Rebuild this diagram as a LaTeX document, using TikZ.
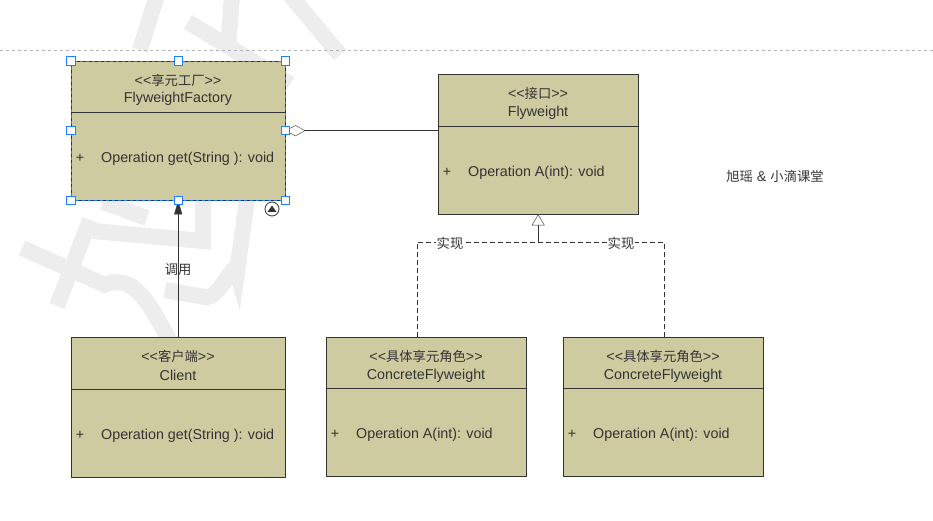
\documentclass[tikz,border=0pt]{standalone}
\usepackage{fontspec}
\setmainfont{Liberation Sans}
\newfontfamily\cjk[Scale=0.93]{Noto Sans CJK SC}
\usetikzlibrary{arrows.meta}
\definecolor{umlfill}{RGB}{207,203,161}
\definecolor{umlline}{RGB}{51,51,51}
\definecolor{selblue}{RGB}{30,128,255}
\tikzset{
  classbox/.style={draw=umlline, fill=umlfill, anchor=north west, inner sep=0pt},
  handle/.style={draw=selblue, fill=white, minimum size=8.5pt, inner sep=0pt, line width=0.9pt},
  wmark/.style={black!7, line width=16pt},
  realize/.style={umlline, dash pattern=on 5pt off 3pt}
}
\begin{document}
\begin{tikzpicture}[x=1pt,y=-1pt, font=\fontsize{14.3}{16}\selectfont, every node/.style={text=umlline}]
\useasboundingbox (0,0) rectangle (933,521);

% watermark
\draw[wmark] (22,248) -- (105,285) to[out=25,in=120] (172,345);
\draw[wmark] (90,220) -- (57,306);
\draw[wmark] (93,231) -- (203,241) -- (203,200);
\draw[wmark] (103,202) -- (147,218);
\draw[wmark] (247,200) -- (237,272) to[out=100,in=-10] (205,297) -- (165,290);
\draw[wmark] (157,-5) -- (140,50);
\draw[wmark] (232,-5) -- (228,48);
\draw[wmark] (188,22) -- (290,84);
\draw[wmark] (290,-5) -- (340,55);

\draw[gray!60, dashed] (0,50) -- (933,50);

% classes
\node[classbox, minimum width=214pt, minimum height=139pt] (fac) at (71,61) {};
\draw[umlline] (fac.west |- 0,112) -- (fac.east |- 0,112);
\node (facst) at (178,80) {{<}{<}{\cjk 享元工厂}{>}{>}};
\node (facnm) at (178,99) {FlyweightFactory};
\node (facpl) at (80,158.5) {+};
\node[anchor=west, inner sep=0pt] (facop) at (101,158.5) {Operation get(String ): void};
\draw[selblue, dash pattern=on 3pt off 3pt] (fac.north west) rectangle (fac.south east);

\node[classbox, minimum width=200pt, minimum height=140pt] (fly) at (438,74) {};
\draw[umlline] (fly.west |- 0,126) -- (fly.east |- 0,126);
\node (flyst) at (538,93.5) {{<}{<}{\cjk 接口}{>}{>}};
\node (flynm) at (538,112.5) {Flyweight};
\node (flypl) at (447,172.5) {+};
\node[anchor=west, inner sep=0pt] (flyop) at (468,172.5) {Operation A(int): void};

\node[classbox, minimum width=214pt, minimum height=140pt] (cli) at (71,337) {};
\draw[umlline] (cli.west |- 0,389) -- (cli.east |- 0,389);
\node (clist) at (178,356.5) {{<}{<}{\cjk 客户端}{>}{>}};
\node (clinm) at (178,375.5) {Client};
\node (clipl) at (80,435.5) {+};
\node[anchor=west, inner sep=0pt] (cliop) at (101,435.5) {Operation get(String ): void};

\node[classbox, minimum width=200pt, minimum height=139pt] (con1) at (326,337) {};
\draw[umlline] (con1.west |- 0,388) -- (con1.east |- 0,388);
\node (con1st) at (426,356.5) {{<}{<}{\cjk 具体享元角色}{>}{>}};
\node (con1nm) at (426,375.5) {ConcreteFlyweight};
\node (con1pl) at (335,434.5) {+};
\node[anchor=west, inner sep=0pt] (con1op) at (356,434.5) {Operation A(int): void};

\node[classbox, minimum width=200pt, minimum height=139pt] (con2) at (563,337) {};
\draw[umlline] (con2.west |- 0,388) -- (con2.east |- 0,388);
\node (con2st) at (663,356.5) {{<}{<}{\cjk 具体享元角色}{>}{>}};
\node (con2nm) at (663,375.5) {ConcreteFlyweight};
\node (con2pl) at (572,434.5) {+};
\node[anchor=west, inner sep=0pt] (con2op) at (593,434.5) {Operation A(int): void};

% relations
\draw[umlline, {Diamond[open,length=20pt,width=11pt]}-] (fac.east) -- (fac.east -| fly.west);
\draw[umlline, -{Triangle[length=14pt,width=8pt]}] (cli.north) -- (fac.south) node[midway, yshift=-1pt] (call) {{\cjk 调用}};

\coordinate (split) at (fly.south |- 0,242);
\coordinate (jl) at (417,242);
\coordinate (jr) at (664,242);
\draw[umlline, -{Triangle[open,length=11pt,width=13pt]}] (split) -- (fly.south);
\draw[realize] (con1.north -| jl) -- (jl) -- (jr) -- (con2.north -| jr);
\node[fill=white, inner sep=1pt] (impl) at (450,243) {{\cjk 实现}};
\node[fill=white, inner sep=1pt] (impr) at (621,243) {{\cjk 实现}};

% selection handles
\node[handle] at (fac.north west) {};
\node[handle] at (fac.north) {};
\node[handle] at (fac.north east) {};
\node[handle] at (fac.west) {};
\node[handle] at (fac.east) {};
\node[handle] at (fac.south west) {};
\node[handle] at (fac.south) {};
\node[handle] at (fac.south east) {};
\draw[umlline, line width=0.8pt] (272,209) circle (7pt);
\fill[umlline] (267.5,212) -- (276.5,212) -- (272,205.5) -- cycle;

\node (brand) at (775,176) {{\cjk 旭瑶} \& {\cjk 小滴课堂}};
\end{tikzpicture}
\end{document}
